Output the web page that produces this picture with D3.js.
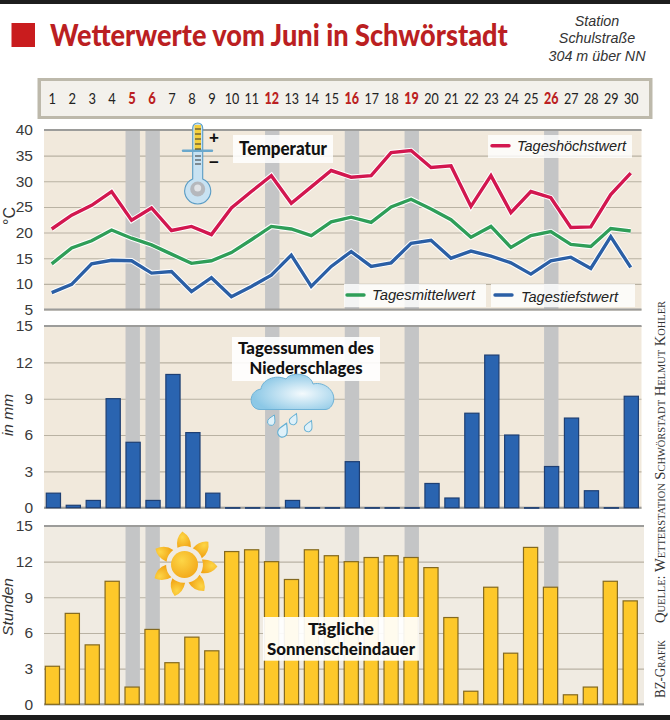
<!DOCTYPE html>
<html><head><meta charset="utf-8">
<script src="https://cdn.jsdelivr.net/npm/d3@7/dist/d3.min.js"></script>
<style>html,body{margin:0;padding:0;background:#fff}svg{display:block}</style>
</head><body><svg id="c" width="670" height="720"></svg>
<script>
const days = d3.range(1, 31);
const weekendDays = [5, 6, 12, 16, 19, 26];
const tempHigh = [20.7,23.4,25.3,28.0,22.4,24.8,20.4,21.2,19.6,24.8,28.0,31.1,25.7,28.9,32.1,30.8,31.1,35.6,36.0,32.7,33.0,25.1,31.1,23.9,28.0,26.8,21.0,21.1,27.4,31.6];
const tempMean = [13.9,17.0,18.4,20.5,18.9,17.6,15.8,14.0,14.5,16.1,18.6,21.2,20.7,19.4,22.1,23.0,22.0,25.0,26.5,24.6,22.5,19.1,21.2,17.1,19.4,20.2,17.7,17.3,20.8,20.3];
const tempLow = [8.3,9.9,13.9,14.6,14.5,12.1,12.4,8.5,11.2,7.5,9.5,11.7,15.6,9.5,13.4,16.3,13.4,14.1,17.9,18.5,15.0,16.4,15.4,14.1,11.9,14.5,15.2,13.0,19.2,13.2];
const rain = [1.2,0.2,0.6,9.0,5.4,0.6,11.0,6.2,1.2,0,0,0,0.6,0,0,3.8,0,0,0,2.0,0.8,7.8,12.6,6.0,0,3.4,7.4,1.4,0,9.2];
const sunshine = [3.2,7.65,5.0,10.35,1.45,6.3,3.5,5.65,4.5,12.85,13.0,12.0,10.5,13.0,12.5,12.0,12.35,12.5,12.35,11.5,7.3,1.1,9.85,4.3,13.2,9.85,0.8,1.45,10.35,8.7];
const tempTicks = [5,10,15,20,25,30,35,40];
const barTicks = [0,3,6,9,12,15];

const svg = d3.select("#c");
const SANS = "'Liberation Sans',Arial,sans-serif", HEAD = "Lato,sans-serif";
const txt = (s,x,y,o={}) => {
  const t = svg.append("text").attr("x",x).attr("y",y).text(s)
    .attr("font-family",o.f||SANS).attr("font-size",o.s||14).attr("fill",o.c||"#222")
    .attr("text-anchor",o.a||"start");
  if(o.w) t.attr("font-weight",o.w);
  if(o.i) t.attr("font-style","italic");
  if(o.l) t.attr("textLength",o.l).attr("lengthAdjust","spacingAndGlyphs");
  if(o.t) t.attr("transform",o.t);
  if(o.v) t.style("font-variant",o.v);
  return t;
};
const rect = (x,y,w,h,fill,op) => svg.append("rect").attr("x",x).attr("y",y).attr("width",w).attr("height",h).attr("fill",fill).attr("opacity",op===undefined?1:op);

// frame strips
rect(0,0,670,4,"#1d1d1d"); rect(0,715,670,5,"#1d1d1d");
// header: the title is narrowed by a transform so that its real box ends where the ink ends
rect(11.5,23,23.5,24,"#c91c1e");
const title = txt("Wetterwerte vom Juni in Schwörstadt",0,0,{f:HEAD,s:31,w:900,c:"#bb1f22"});
title.attr("transform",`translate(50,45.5) scale(${458/title.node().getComputedTextLength()},1)`);
const st = {i:1,s:14.3,a:"middle",c:"#333"};
txt("Station",597,25.5,st); txt("Schulstraße",597,43,st); txt("304 m über NN",597,60.5,st);

// days band
rect(37.5,78,615,41,"#bdb9ab");
rect(41,81,608,35,"#f3f1ec");
const xLine = d3.scaleLinear().domain([1,30]).range([51.7,630.7]);
const xBand = d3.scaleLinear().domain([1,30]).range([53,631]);
const dayAxis = svg.append("g").attr("transform","translate(0,93)")
  .call(d3.axisBottom(xLine).tickValues(days).tickSize(0).tickFormat(d3.format("d")));
dayAxis.select(".domain").remove();
dayAxis.selectAll("text").attr("y",0).attr("dy","0.71em")
  .attr("font-family",HEAD).attr("font-size",16)
  .attr("fill",d=>weekendDays.includes(d)?"#bb1f22":"#222")
  .attr("font-weight",d=>weekendDays.includes(d)?900:400)
  .attr("textLength",d=>d<10?7.5:14.5).attr("lengthAdjust","spacingAndGlyphs");

function panel(top,bottom,ticks,domain,bg,right){
  const y = d3.scaleLinear().domain(domain).range([bottom,top]);
  rect(44,top,right-44,bottom-top,bg);
  const g = svg.append("g").attr("transform","translate(44,0)")
    .call(d3.axisLeft(y).tickValues(ticks).tickSize(-(right-44)).tickPadding(11).tickFormat(d3.format("d")));
  g.select(".domain").remove();
  g.selectAll("line").attr("stroke","#b9b2a3").attr("stroke-width",1.1);
  g.selectAll("text").attr("font-family",SANS).attr("font-size",15.5).attr("fill","#3a3a3a");
  svg.selectAll(null).data(weekendDays).join("rect")
    .attr("x",d=>xBand(d)-7.2).attr("width",14.4).attr("y",top).attr("height",bottom-top)
    .attr("fill","#c4c5c6");
  rect(44,top-1,right-44,2,"#9c9c9a");
  rect(44,bottom-1,right-44,2,"#9c9c9a");
  return y;
}

// temperature
const yT = panel(130,309.5,tempTicks,[5,40],"#f1e9dc",641.5);
txt("°C",0,0,{s:16,a:"middle",c:"#333",t:"translate(15,216) rotate(-90)"});
const line = d3.line().x((d,i)=>xLine(days[i])).y(d=>yT(d));
[[tempHigh,"#d2174f"],[tempMean,"#2f9e58"],[tempLow,"#2b5fa5"]].forEach(([s,c])=>{
  svg.append("path").attr("d",line(s)).attr("fill","none").attr("stroke","#fff").attr("stroke-width",5.4).attr("stroke-linejoin","miter");
  svg.append("path").attr("d",line(s)).attr("fill","none").attr("stroke",c).attr("stroke-width",3.4).attr("stroke-linejoin","miter");
});
rect(233,135,100,28,"#fff",.85);
txt("Temperatur",239,155,{f:HEAD,s:18.5,w:900,c:"#111",l:88});
const lg = (bx,by,bw,bh,lx,ly,c,s,tx,ty,tl)=>{
  rect(bx,by,bw,bh,"#fff",.8);
  svg.append("line").attr("x1",lx).attr("x2",lx+17).attr("y1",ly).attr("y2",ly).attr("stroke",c).attr("stroke-width",3.4).attr("stroke-linecap","round");
  txt(s,tx,ty,{i:1,s:14.5,c:"#222",l:tl});
};
lg(488,135,144,23,492,145.7,"#d2174f","Tageshöchstwert",517,151,109);
lg(344,284,142,23,347,295,"#2f9e58","Tagesmittelwert",372,300,103);
lg(491,284,144,23,495,295,"#2b5fa5","Tagestiefstwert",521,302,97);

// thermometer
const th = svg.append("g");
th.append("path").attr("d","M192.7 128a5 5 0 0 1 10 0V179a13 13 0 1 1-10 0Z").attr("fill","#c8e2f2").attr("stroke","#5a9cc4").attr("stroke-width",1.1);
th.append("rect").attr("x",194.5).attr("y",125).attr("width",6.5).attr("height",26).attr("fill","#f4cf3c");
th.append("line").attr("x1",183).attr("x2",212).attr("y1",150.7).attr("y2",150.7).attr("stroke","#6aa8cc").attr("stroke-width",2.4).attr("stroke-linecap","round");
th.selectAll(null).data([129,134,139,144,149,156,160,164]).join("line")
  .attr("x1",195).attr("x2",201).attr("y1",d=>d).attr("y2",d=>d).attr("stroke","#333").attr("stroke-width",1);
th.append("circle").attr("cx",197.7).attr("cy",189).attr("r",7.5).attr("fill","#b5b8bd");
th.append("circle").attr("cx",197.7).attr("cy",188).attr("r",3.5).attr("fill","#e1e3e6");
txt("+",214,142.5,{s:17,w:700,a:"middle",c:"#111"});
txt("−",214,168,{s:17,w:700,a:"middle",c:"#111"});

// bars: a dry day still leaves a flat dark line on the baseline
function bars(vals,y,zero,xr,fill,stroke){
  const x = d3.scaleLinear().domain([1,30]).range(xr);
  svg.append("g").selectAll("rect").data(vals).join("rect")
    .attr("x",(d,i)=>x(days[i])-7.1).attr("width",14.2)
    .attr("y",d=>y(d)).attr("height",d=>Math.max(0.5,zero-y(d)))
    .attr("fill",fill).attr("stroke",stroke).attr("stroke-width",1.2);
}
const yR = panel(326,507.7,barTicks,[0,15],"#f1e9dc",641.5);
txt("in mm",0,0,{i:1,s:15.5,a:"middle",c:"#333",t:"translate(13,415) rotate(-90)"});
bars(rain,yR,507.7,[53.4,631.3],"#2a64b0","#1e3f73");
rect(232,337,148,44,"#fff",.9);
const cap = {f:HEAD,s:16.5,w:900,a:"middle",c:"#111"};
txt("Tagessummen des",306,353.5,{...cap,l:136});
txt("Niederschlages",306,373.5,{...cap,l:113});

// cloud
const defs = svg.append("defs");
const cg = defs.append("radialGradient").attr("id","cl").attr("cx","0.62").attr("cy","0.55").attr("r","0.6");
cg.append("stop").attr("offset","0").attr("stop-color","#f4fafd");
cg.append("stop").attr("offset","1").attr("stop-color","#8cc8e6");
svg.append("path").attr("d","M260 409.5C248 409 248 391 261 389C262 380 275 374 286 379C290 372 310 372 313 384C325 381 337 392 333 403C331 408 328 409.5 325 409.5Z")
  .attr("fill","url(#cl)").attr("stroke","#6fb2d6").attr("stroke-width",1);
svg.selectAll(null).data([[272,420,.8],[294,419,.85],[283.5,430,1.05],[309,426,.85]]).join("path")
  .attr("d","M0 -7C3 -2 4.5 0 4.5 2.5A4.5 4.5 0 1 1 -4.5 2.5C-4.5 0 -3 -2 0 -7Z")
  .attr("transform",d=>`translate(${d[0]},${d[1]}) rotate(25) scale(${d[2]})`)
  .attr("fill","#dff1f9").attr("stroke","#62aed3").attr("stroke-width",1.1);

// sunshine
const yS = panel(526,704.3,barTicks,[0,15],"#f0ebe2",644);
txt("Stunden",0,0,{i:1,s:15.5,a:"middle",c:"#333",t:"translate(13,607) rotate(-90)"});
bars(sunshine,yS,704.3,[52.4,630.2],"#fdc82a","#84691f");
rect(263,617,156,43.7,"#fff",.92);
txt("Tägliche",341,634.5,{...cap,l:66});
txt("Sonnenscheindauer",341,654.5,{...cap,l:148});

// sun icon
const sg = defs.append("radialGradient").attr("id","su").attr("cx","0.4").attr("cy","0.35").attr("r","0.75");
sg.append("stop").attr("offset","0").attr("stop-color","#fdd647");
sg.append("stop").attr("offset","1").attr("stop-color","#f2a516");
const sun = svg.append("g").attr("transform","translate(184.5,564.5)");
sun.append("circle").attr("r",13.5).attr("fill","url(#su)");
sun.selectAll("path").data([-2,48,95,145,199,247,300]).join("path")
  .attr("d","M-6.5 -17Q0 -20 7 -17Q8 -27 -1 -33Q-8 -27 -6.5 -17Z")
  .attr("transform",d=>`rotate(${d})`).attr("fill","url(#su)");

// credits
txt("Quelle: Wetterstation Schwörstadt Helmut Kohler",0,0,{f:"'Liberation Serif',serif",s:14,c:"#333",v:"small-caps",l:322,t:"translate(665,623) rotate(-90)"});
txt("BZ-Grafik",0,0,{f:"'Liberation Serif',serif",s:14,c:"#333",v:"small-caps",l:58,t:"translate(665,698) rotate(-90)"});
</script></body></html>
